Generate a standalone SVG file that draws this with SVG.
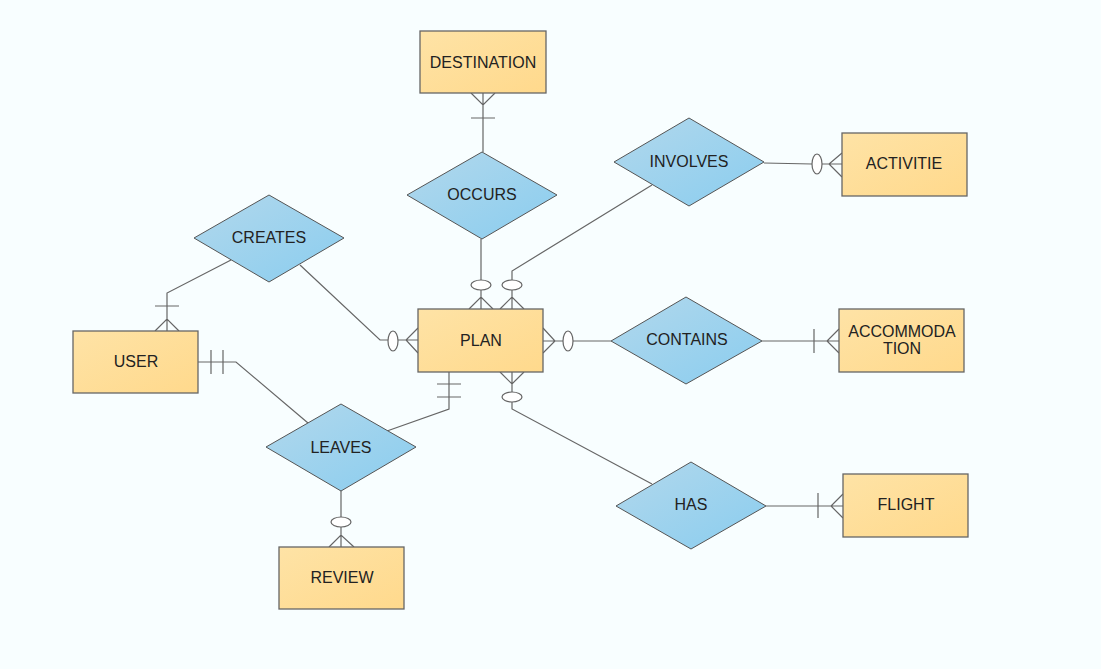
<svg xmlns="http://www.w3.org/2000/svg" width="1101" height="669" viewBox="0 0 1101 669">
<defs>
<linearGradient id="gE" x1="0" y1="0" x2="1" y2="1">
<stop offset="0" stop-color="#FEE3A6"/>
<stop offset="1" stop-color="#FFD98C"/>
</linearGradient>
<linearGradient id="gR" x1="0" y1="0" x2="1" y2="1">
<stop offset="0" stop-color="#B2D8EC"/>
<stop offset="1" stop-color="#8ACDEF"/>
</linearGradient>
</defs>
<style>
.ent{fill:url(#gE);stroke:#666;stroke-width:1.3}
.rel{fill:url(#gR);stroke:#555;stroke-width:1}
.t{font-family:"Liberation Sans",Arial,sans-serif;font-size:16px;fill:#222;text-anchor:middle;dominant-baseline:central}
.c{fill:none;stroke:#666;stroke-width:1.2}
.o{fill:#fff;stroke:#666;stroke-width:1.2}
</style>
<rect width="1101" height="669" fill="#F8FEFF"/>
<g id="connectors">
<!-- DESTINATION - OCCURS -->
<path class="c" d="M483,93 V152 M471,93 L483,105 L495,93 M471,118 H495"/>
<!-- OCCURS - PLAN -->
<path class="c" d="M481,239 V280 M481,290 V309 M469,309 L481,297 L493,309"/>
<ellipse class="o" cx="481" cy="285" rx="10" ry="5"/>
<!-- INVOLVES - PLAN -->
<path class="c" d="M652,185 L512,271 V280 M512,290 V309 M500,309 L512,297 L524,309"/>
<ellipse class="o" cx="512" cy="285" rx="10" ry="5"/>
<!-- CREATES - PLAN -->
<path class="c" d="M300,265 L380,340 H388 M398,340 H418 M418,328 L406,340 L418,353"/>
<ellipse class="o" cx="393" cy="341" rx="5" ry="10"/>
<!-- PLAN - CONTAINS -->
<path class="c" d="M543,341 H563 M573,341 H611 M543,328 L555,341 L543,353"/>
<ellipse class="o" cx="568" cy="341" rx="5" ry="10"/>
<!-- PLAN - LEAVES -->
<path class="c" d="M449,372 V409 L387,431 M437,384 H461 M437,397 H461"/>
<!-- PLAN - HAS -->
<path class="c" d="M512,372 V392 M512,402 V409 L652,484 M500,372 L512,384 L524,372"/>
<ellipse class="o" cx="512" cy="397" rx="10" ry="5"/>
<!-- USER - CREATES -->
<path class="c" d="M167,331 V293 L231,260 M155,331 L167,319 L179,331 M155,306 H179"/>
<!-- USER - LEAVES -->
<path class="c" d="M198,362 H236 L308,423 M211,350 V374 M223,350 V374"/>
<!-- LEAVES - REVIEW -->
<path class="c" d="M341,491 V517 M341,527 V547 M329,547 L341,535 L354,547"/>
<ellipse class="o" cx="341" cy="522" rx="10" ry="5"/>
<!-- INVOLVES - ACTIVITIE -->
<path class="c" d="M764,163 L812,164 M822,164 H842 M842,153 L829,164 L842,177"/>
<ellipse class="o" cx="817" cy="164" rx="5" ry="10"/>
<!-- CONTAINS - ACCOMMODATION -->
<path class="c" d="M762,341 H839 M814,329 V353 M839,329 L827,341 L839,353"/>
<!-- HAS - FLIGHT -->
<path class="c" d="M766,506 H843 M818,493 V518 M843,494 L831,506 L843,518"/>
</g>
<g id="DESTINATION"><rect class="ent" x="420" y="31" width="126" height="62"/><text class="t" x="483" y="62">DESTINATION</text></g>
<g id="PLAN"><rect class="ent" x="418" y="309" width="125" height="63"/><text class="t" x="481" y="340">PLAN</text></g>
<g id="USER"><rect class="ent" x="73" y="331" width="125" height="62"/><text class="t" x="136" y="361">USER</text></g>
<g id="ACTIVITIE"><rect class="ent" x="842" y="133" width="125" height="63"/><text class="t" x="904" y="163">ACTIVITIE</text></g>
<g id="ACCOMMODATION"><rect class="ent" x="839" y="309" width="125" height="63"/><text class="t" x="902" y="331">ACCOMMODA</text><text class="t" x="902" y="348">TION</text></g>
<g id="FLIGHT"><rect class="ent" x="843" y="474" width="125" height="63"/><text class="t" x="906" y="504">FLIGHT</text></g>
<g id="REVIEW"><rect class="ent" x="279" y="547" width="125" height="62"/><text class="t" x="342" y="577">REVIEW</text></g>
<g id="OCCURS"><polygon class="rel" points="482,152 557,195 482,239 407,195"/><text class="t" x="482" y="194">OCCURS</text></g>
<g id="CREATES"><polygon class="rel" points="269,195 344,238 269,282 194,238"/><text class="t" x="269" y="237">CREATES</text></g>
<g id="INVOLVES"><polygon class="rel" points="689,118 764,162 689,206 614,162"/><text class="t" x="689" y="161">INVOLVES</text></g>
<g id="CONTAINS"><polygon class="rel" points="686,297 762,341 686,384 611,341"/><text class="t" x="687" y="339">CONTAINS</text></g>
<g id="LEAVES"><polygon class="rel" points="341,404 416,447 341,491 266,447"/><text class="t" x="341" y="447">LEAVES</text></g>
<g id="HAS"><polygon class="rel" points="691,462 766,506 691,549 616,506"/><text class="t" x="691" y="504">HAS</text></g>
</svg>
